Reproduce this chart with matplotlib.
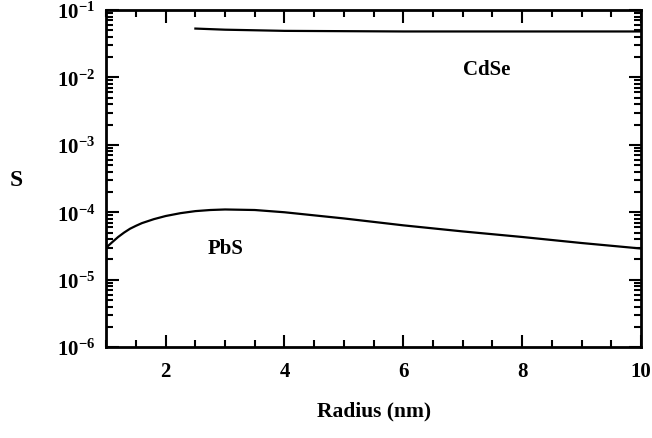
import matplotlib as mpl
mpl.use('Agg')
import matplotlib.pyplot as plt
from matplotlib.ticker import MultipleLocator, LogLocator, NullFormatter

plt.rcParams['font.family'] = 'Liberation Serif'
plt.rcParams['font.weight'] = 'bold'
plt.rcParams['axes.labelweight'] = 'bold'
plt.rcParams['mathtext.default'] = 'regular'

# PbS curve
pbsRadius = [1.0, 1.1, 1.2, 1.3, 1.4, 1.5, 1.6, 1.8, 2.0, 2.25, 2.5, 2.75, 3.0, 3.5,
             4.0, 5.0, 6.0, 7.0, 8.0, 9.0, 10.0]
pbsS = [3.0e-5, 3.6e-5, 4.3e-5, 5.0e-5, 5.7e-5, 6.3e-5, 6.9e-5, 7.9e-5, 8.8e-5, 9.7e-5,
        1.04e-4, 1.08e-4, 1.1e-4, 1.08e-4, 1.0e-4, 8.1e-5, 6.4e-5, 5.2e-5, 4.3e-5,
        3.5e-5, 2.9e-5]

# CdSe curve
cdseRadius = [2.5, 3.0, 3.5, 4.0, 5.0, 6.0, 7.0, 8.0, 9.0, 10.0]
cdseS = [0.053, 0.051, 0.050, 0.049, 0.0485, 0.048, 0.048, 0.048, 0.048, 0.048]

fig = plt.figure(figsize=(6.52, 4.39), dpi=100)
ax = fig.add_axes([0.163, 0.207, 0.82, 0.768])

ax.plot(pbsRadius, pbsS, color='black', lw=1.6)
ax.plot(cdseRadius, cdseS, color='black', lw=1.6)

ax.set_yscale('log')
ax.set_xlim(1, 10)
ax.set_ylim(1e-6, 1e-1)

ax.xaxis.set_major_locator(MultipleLocator(2))
ax.xaxis.set_minor_locator(MultipleLocator(0.5))
ax.yaxis.set_major_locator(LogLocator(base=10, numticks=10))
ax.yaxis.set_minor_locator(LogLocator(base=10, subs=range(2, 10), numticks=10))
ax.yaxis.set_minor_formatter(NullFormatter())

ax.tick_params(which='both', direction='in', top=True, right=True, width=1.5, labelsize=15)
ax.tick_params(which='major', length=9)
ax.tick_params(which='minor', length=5)
ax.tick_params(axis='x', pad=10)
ax.tick_params(axis='y', pad=8)
for s in ax.spines.values():
    s.set_linewidth(2)

ax.text(3.0, 3.0e-5, 'PbS', fontsize=15, ha='center', va='center')
ax.text(7.4, 1.35e-2, 'CdSe', fontsize=15, ha='center', va='center')

ax.set_xlabel('Radius (nm)', fontsize=15.5, labelpad=14)
fig.text(16.5 / 652, 1 - 181 / 439, 'S', fontsize=17, ha='center', va='center')

fig.savefig('out.png', dpi=100)
